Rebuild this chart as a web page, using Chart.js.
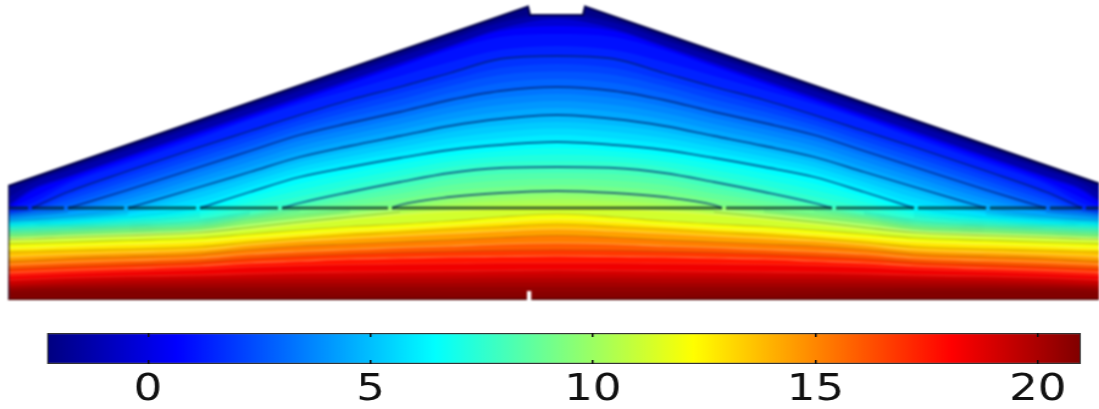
<!DOCTYPE html>
<html>
<head>
<meta charset="utf-8">
<script src="https://cdn.jsdelivr.net/npm/chart.js@4"></script>
<style>
  html, body { margin: 0; padding: 0; background: #fff; width: 1099px; height: 409px; overflow: hidden; }
  canvas { position: absolute; }
  #field { left: 8px; top: 0; filter: blur(0.9px); }
  /* the tick digits of the picture are stretched sideways */
  #colorbar { left: 0; top: 320px; filter: blur(0.4px); transform: scaleX(1.2198); transform-origin: left top; }
</style>
</head>
<body>
<canvas id="field" width="1091" height="300"></canvas>
<canvas id="colorbar" width="901" height="89"></canvas>
<script>
  // Distance from the centre of the section, read at these stations (section is symmetric)
  const stations = [0, 57, 107, 157, 207, 257, 307, 357, 429, 489, 525, 549];

  // Field value of each isoline, lowest first
  const levelValues = [
    -2.27, -2, -1.6, -1, 0.3, 0.8, 1.2,
    1.6, 1.99, 2.35, 2.73,
    3.1, 3.49, 3.88, 4.26,
    4.65, 5.04, 5.43, 5.81,
    6.2, 6.59, 6.98, 7.36,
    7.75, 8.14, 8.53, 8.91,
    9.3, 9.69, 10.08, 10.46,
    10.85, 11.6, 12.4, 13.2, 14, 14.8, 15.6, 16.4, 17.2, 18, 18.8, 19.2, 19.6, 20, 20.4, 20.65, 20.9,
  ];

  // Depth below the top of the picture of each isoline at each station
  const levelDepths = [
    [0, 0, 0, 0, 0, 0, 0, 0, 0, 0, 0, 0],
    [12, 20.5, 37.5, 55, 72, 89, 106, 123, 148, 168.5, 181, 189],
    [15, 23, 40, 57, 74, 91, 108, 125, 150, 170.5, 183, 198],
    [19, 28.5, 45.5, 62.5, 79.5, 96.5, 113.5, 130.5, 155.5, 176, 188.5, 205],
    [26, 31, 47.5, 65, 82, 99, 116, 133, 157.5, 178, 191, 208],
    [34, 37, 50, 67, 84, 101, 118, 135, 160, 181, 198, 209],
    [46, 50, 62, 76, 90, 104, 120, 138, 163, 184, 203, 209.5],
    [56, 59, 73, 87, 100, 115, 131, 147, 171, 192, 208, 211],
    [64, 68, 80, 93, 106, 120, 136, 152, 176, 196, 209, 212],
    [71.5, 75, 86, 99.5, 111.5, 125, 141, 157, 180.5, 200, 210, 213],
    [79, 83, 93, 106, 117, 130, 146, 162, 185, 204, 211, 214],
    [87, 91, 100, 112, 123, 135, 151, 167, 190, 208, 212, 215],
    [94, 98, 106.5, 118, 129, 140.5, 156, 172, 194.5, 210, 213.5, 216],
    [101, 105, 113, 124, 134.5, 146, 161.5, 177, 199, 211.5, 215, 217.5],
    [108, 112, 119.5, 130, 140, 151.5, 167, 182, 203.5, 213, 216.5, 219],
    [115, 119, 126, 136, 146, 157, 172, 187, 208, 216, 219, 220],
    [122, 125.5, 132, 141.5, 151, 162, 177, 192, 211, 217, 219.5, 221],
    [128.5, 132, 138, 147, 156.5, 167, 182, 197.5, 213, 218.5, 220.5, 222],
    [135, 138.5, 144, 152.5, 161.5, 172, 187, 203, 215, 220, 221.5, 223],
    [142, 145, 150, 158, 167, 177, 192, 208, 217, 221.5, 223, 224],
    [148, 151, 156, 164, 173, 183.5, 197, 211, 218.5, 223, 224, 225.5],
    [154.5, 156.5, 161.5, 170, 179.5, 190, 202, 214, 220.5, 224.5, 225.5, 226.5],
    [161, 162, 167, 176, 185.5, 196.5, 207, 217, 222.5, 225.5, 227, 228],
    [167, 168, 173, 182, 192, 203, 212, 220, 224.5, 227, 228.5, 229.5],
    [173, 174, 179, 188, 196.5, 205.5, 214, 222, 226, 228.5, 230, 231],
    [179, 180.5, 185, 193.5, 201, 208, 216, 224, 227.5, 230, 231.5, 232],
    [185, 187, 191, 199, 205.5, 211, 218, 226, 229, 231.5, 233, 234],
    [191, 193, 197, 205, 210, 214.5, 220, 227.5, 230.5, 233, 234.5, 235],
    [195, 197, 200.5, 207, 212, 217, 222.5, 229.5, 232.5, 234.5, 236, 237],
    [199.5, 201, 204, 209.5, 214.5, 219.5, 225, 231, 234, 236, 237.5, 238.5],
    [204, 205, 207.5, 212, 217, 222, 227.5, 232.5, 235.5, 237.5, 239, 239.5],
    [208, 209, 211, 214.5, 219, 224, 229.5, 234, 237, 239, 240, 240.5],
    [214, 217, 221, 224, 226.5, 230, 234, 238, 240.5, 242.5, 243.5, 244],
    [219.5, 222, 225.5, 228.5, 231, 234.5, 238, 242, 244.5, 246.5, 248, 248.5],
    [224, 226.5, 229, 232, 234.5, 238, 242, 246.5, 249, 250.5, 251.5, 252],
    [229, 231, 233.5, 236, 238.5, 241, 245, 250, 252.5, 254.5, 256, 257],
    [235.5, 237.5, 240, 242, 244, 246, 249.5, 254, 256.5, 258.5, 260.5, 261.5],
    [243, 244, 246, 247.5, 249.5, 251.5, 254, 258, 260.5, 262.5, 264, 265],
    [250, 250.5, 251.5, 252.5, 254, 256, 258.5, 262, 264.5, 266.5, 268, 269],
    [256, 256.5, 257, 258, 259, 261, 263, 266, 268.5, 270.5, 272, 273],
    [263, 263, 263.5, 264, 264.5, 265.5, 267, 269.5, 271.5, 273.5, 275, 276],
    [270, 270.5, 271, 271.5, 272, 272.5, 273.5, 275, 276, 277.5, 279, 280],
    [274, 274.5, 275, 275, 275.5, 275.5, 276.5, 277.5, 278.5, 280, 281.5, 282.5],
    [278, 278, 278.5, 278.5, 279, 279, 279.5, 280, 281, 282.5, 284, 285],
    [282.5, 282.5, 283, 283, 283, 283, 283, 283.5, 284, 285, 286, 287],
    [287, 287, 287, 287, 287, 287, 287, 287, 287, 287.5, 288, 289],
    [291.5, 291.5, 291.5, 291, 291, 290.5, 290, 289.5, 289.5, 289.5, 290, 291],
    [296, 296, 296, 295, 295, 294, 293, 292, 291.5, 292, 292.5, 293],
  ];

  // Dark isolines in the upper part and where each one meets the interface
  const contourValues = [1.6, 3.1, 4.65, 6.2, 7.75, 9.3];
  const contourEnds = [525, 489, 429, 357, 275, 165];
  const interfaceDepth = 208;
  const interfaceSpans = [[0, 165], [169, 275], [279, 357], [361, 429], [433, 489], [493, 525], [529, 549]];

  // Outline of the section
  const roofX = [-549, -29, -27, 26, 28, 549];
  const roofDepth = [186, 6.5, 15, 15, 6.5, 186];
  const slotX = [-30, -30, -25.5, -25.5];
  const slotDepth = [300, 291, 291, 300];
  const sideX = [-549, -549];
  const sideDepth = [186, 300];
  const baseX = [-549, 549];
  const baseDepth = [299.5, 299.5];

  // Colour scale
  const valueMin = -2.27;
  const valueMax = 20.97;
  const colorbarTicks = [0, 5, 10, 15, 20];
  const jetStops = [
    [0, [0, 0, 128]],
    [0.125, [0, 0, 255]],
    [0.375, [0, 255, 255]],
    [0.625, [255, 255, 0]],
    [0.875, [255, 0, 0]],
    [1, [128, 0, 0]],
  ];

  function jet(value) {
    const f = Math.min(1, Math.max(0, (value - valueMin) / (valueMax - valueMin)));
    for (let i = 1; i < jetStops.length; i++) {
      if (f <= jetStops[i][0]) {
        const [f0, c0] = jetStops[i - 1];
        const [f1, c1] = jetStops[i];
        const t = (f - f0) / (f1 - f0);
        const c = c0.map((v, k) => Math.round(v + (c1[k] - v) * t));
        return `rgb(${c[0]},${c[1]},${c[2]})`;
      }
    }
    return "rgb(128,0,0)";
  }

  // Both halves of a profile, left to right
  function bothSides(dist, depth) {
    const pts = [];
    for (let i = dist.length - 1; i > 0; i--) pts.push({ x: -dist[i], y: depth[i] });
    pts.push({ x: dist[0], y: depth[0] });
    for (let i = 1; i < dist.length; i++) pts.push({ x: dist[i], y: depth[i] });
    return pts;
  }

  function xyPoints(xs, ys) {
    return xs.map((x, i) => ({ x, y: ys[i] }));
  }

  const datasets = [];

  // Filled bands: each one paints everything below its isoline, the next paints over it
  levelValues.forEach((value, i) => {
    const next = i + 1 < levelValues.length ? levelValues[i + 1] : valueMax;
    datasets.push({
      data: bothSides(stations, levelDepths[i]),
      backgroundColor: jet((value + next) / 2),
      fill: "start",
      borderWidth: 0,
      cubicInterpolationMode: "monotone",
      order: 1000 - i,
    });
  });

  // Thin streaks of the isolines below the interface, light and dull by turns
  levelValues.forEach((value, i) => {
    if (value < 1.6 || value > 18.9) return;
    let color = "rgba(0,40,80,0.12)";
    if (value > 17.5) color = "rgba(255,150,120,0.22)";
    else if (value > 10) color = i % 2 ? "rgba(255,255,190,0.34)" : "rgba(110,70,0,0.28)";
    const depth = levelDepths[i].map((d) => (d >= interfaceDepth ? d : null));
    datasets.push({
      data: bothSides(stations, depth),
      borderColor: color,
      borderWidth: 1.2,
      fill: false,
      cubicInterpolationMode: "monotone",
      order: 400 - i,
    });
  });

  // White above the roof
  datasets.push({
    data: xyPoints(roofX, roofDepth),
    backgroundColor: "#fff",
    borderColor: "rgb(0,0,70)",
    borderWidth: 2,
    fill: "end",
    order: 100,
  });

  // Dark isolines above the interface
  contourValues.forEach((value, i) => {
    const row = levelDepths[levelValues.indexOf(value)];
    const dist = stations.filter((d) => d < contourEnds[i]);
    const depth = row.slice(0, dist.length);
    dist.push(contourEnds[i]);
    depth.push(interfaceDepth);
    datasets.push({
      data: bothSides(dist, depth),
      borderColor: "rgba(0,30,110,0.66)",
      borderWidth: 1.8,
      fill: false,
      cubicInterpolationMode: "monotone",
      order: 50,
    });
  });

  // Interface line, broken where the isolines land on it
  const interfacePoints = [];
  interfaceSpans
    .slice(1)
    .reverse()
    .forEach(([a, b]) => {
      interfacePoints.push({ x: -b, y: interfaceDepth }, { x: -a, y: interfaceDepth }, { x: -a + 1, y: null });
    });
  interfacePoints.push({ x: -interfaceSpans[0][1], y: interfaceDepth }, { x: interfaceSpans[0][1], y: interfaceDepth });
  interfaceSpans.slice(1).forEach(([a, b]) => {
    interfacePoints.push({ x: a - 1, y: null }, { x: a, y: interfaceDepth }, { x: b, y: interfaceDepth });
  });
  datasets.push({
    data: interfacePoints,
    borderColor: "rgba(0,30,30,0.68)",
    borderWidth: 2.8,
    fill: false,
    order: 40,
  });

  // Slot in the base and the dark edges
  datasets.push({ data: xyPoints(slotX, slotDepth), backgroundColor: "#fff", borderWidth: 0, fill: "start", order: 30 });
  datasets.push({ data: xyPoints(baseX, baseDepth), borderColor: "rgb(70,0,0)", borderWidth: 1.5, fill: false, order: 35 });
  datasets.push({ data: xyPoints(sideX, sideDepth), borderColor: "rgba(40,40,70,0.8)", borderWidth: 3, fill: false, order: 35 });

  new Chart(document.getElementById("field"), {
    type: "line",
    data: { datasets },
    options: {
      responsive: false,
      animation: false,
      events: [],
      layout: { padding: 0 },
      elements: { point: { radius: 0 } },
      plugins: { legend: { display: false }, tooltip: { enabled: false } },
      scales: {
        x: { type: "linear", display: false, min: -549, max: 542 },
        y: { type: "linear", display: false, reverse: true, min: 0, max: 300 },
      },
    },
  });

  new Chart(document.getElementById("colorbar"), {
    type: "bar",
    data: {
      labels: [""],
      datasets: [
        {
          data: [[valueMin, valueMax]],
          backgroundColor: (ctx) => {
            const area = ctx.chart.chartArea;
            if (!area) return "#00f";
            const g = ctx.chart.ctx.createLinearGradient(area.left, 0, area.right, 0);
            jetStops.forEach(([f]) => {
              g.addColorStop(f, jet(valueMin + f * (valueMax - valueMin)));
            });
            return g;
          },
          barPercentage: 1,
          categoryPercentage: 1,
          borderSkipped: false,
          borderColor: "#333",
          borderWidth: 1.5,
        },
      ],
    },
    options: {
      indexAxis: "y",
      responsive: false,
      animation: false,
      events: [],
      layout: { padding: { left: 38.5, right: 14.8, top: 13, bottom: 0 } },
      plugins: { legend: { display: false }, tooltip: { enabled: false } },
      scales: {
        x: {
          type: "linear",
          min: valueMin,
          max: valueMax,
          afterBuildTicks: (axis) => {
            axis.ticks = colorbarTicks.map((value) => ({ value }));
          },
          afterFit: (axis) => {
            axis.height = 45;
          },
          grid: { drawTicks: false, color: "#111", lineWidth: 1.5, z: 1 },
          border: { display: false, dash: [4, 23] },
          ticks: {
            color: "#111",
            padding: 4,
            maxRotation: 0,
            autoSkip: false,
            font: { family: "'DejaVu Sans'", size: 37 },
          },
        },
        y: {
          display: true,
          grid: { display: false },
          ticks: { display: false },
          border: { display: false },
          afterFit: (axis) => {
            axis.width = 0;
          },
        },
      },
    },
  });
</script>
</body>
</html>
